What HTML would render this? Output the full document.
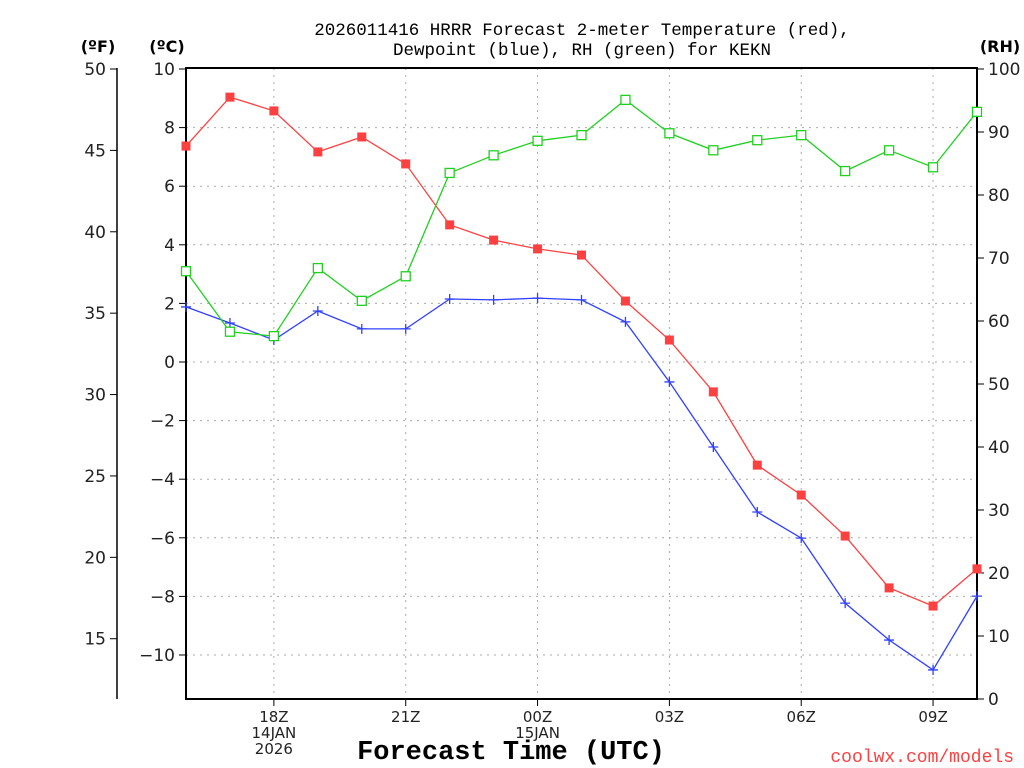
<!DOCTYPE html>
<html><head><meta charset="utf-8"><style>
html,body{margin:0;padding:0;background:#fff;}
svg{display:block;font-family:"DejaVu Sans","Liberation Sans",sans-serif;}
.mono{font-family:"Liberation Mono","DejaVu Sans Mono",monospace;}
</style></head><body>
<svg id="chart" width="1024" height="768" viewBox="0 0 1024 768" xmlns="http://www.w3.org/2000/svg">
<g id="grid"></g>
<g id="axes"></g>
<g id="series"></g>
<text class="mono" x="582" y="35" text-anchor="middle" font-size="17.5">2026011416 HRRR Forecast 2-meter Temperature (red),</text>
<text class="mono" x="582" y="55" text-anchor="middle" font-size="17.5">Dewpoint (blue), RH (green) for KEKN</text>
<text x="98" y="52" text-anchor="middle" font-size="16" font-weight="bold">(ºF)</text>
<text x="167" y="52" text-anchor="middle" font-size="16" font-weight="bold">(ºC)</text>
<text x="1000" y="52" text-anchor="middle" font-size="16" font-weight="bold">(RH)</text>
<text class="mono" x="511" y="759" text-anchor="middle" font-size="27" font-weight="bold">Forecast Time (UTC)</text>
<text class="mono" x="1014" y="762" text-anchor="end" font-size="18" fill="#ff4040">coolwx.com/models</text>
</svg>
<script>
const hours = ["16Z","17Z","18Z","19Z","20Z","21Z","22Z","23Z","00Z","01Z","02Z","03Z","04Z","05Z","06Z","07Z","08Z","09Z","10Z"];
const tempC = [7.37,9.04,8.57,7.17,7.68,6.76,4.68,4.16,3.86,3.65,2.08,0.75,-1.02,-3.52,-4.54,-5.94,-7.71,-8.33,-7.06];
const dewC = [1.88,1.33,0.75,1.74,1.13,1.13,2.15,2.12,2.18,2.12,1.37,-0.68,-2.90,-5.12,-6.01,-8.23,-9.49,-10.51,-7.99];
const rh = [67.9,58.3,57.6,68.4,63.2,67.1,83.5,86.3,88.6,89.5,95.1,89.8,87.1,88.7,89.5,83.8,87.1,84.4,93.2];
const cTicks = [10,8,6,4,2,0,-2,-4,-6,-8,-10];
const fTicks = [50,45,40,35,30,25,20,15];
const rhTicks = [100,90,80,70,60,50,40,30,20,10,0];
const xLabels = {"18Z":["18Z","14JAN","2026"],"21Z":["21Z"],"00Z":["00Z","15JAN"],"03Z":["03Z"],"06Z":["06Z"],"09Z":["09Z"]};

const L=186,R=977,T=68,B=699;
const NS="http://www.w3.org/2000/svg";
const xS=i=>L+(R-L)*i/(hours.length-1);
const yC=c=>69+(10-c)*29.3;
const yF=f=>yC((f-32)*5/9);
const yRH=v=>B-(B-69)*v/100;
function mk(parent,tag,attrs,text){const e=document.createElementNS(NS,tag);for(const k in attrs)e.setAttribute(k,attrs[k]);if(text!==undefined)e.textContent=text;document.getElementById(parent).appendChild(e);return e;}

cTicks.forEach(c=>{if(c===10)return;
 const g=mk('grid','line',{x1:L,x2:R,y1:yC(c),y2:yC(c),stroke:'#aaa','stroke-dasharray':'2,5'});
 
 });
hours.forEach((h,i)=>{if(!xLabels[h])return;
 const g=mk('grid','line',{x1:xS(i),x2:xS(i),y1:T,y2:B,stroke:'#aaa','stroke-dasharray':'2,5'});
 
 
 const t=mk('axes','line',{x1:xS(i),x2:xS(i),y1:B,y2:B+7,stroke:'#000'});
 
 
 xLabels[h].forEach((s,k)=>{const tx=mk('axes','text',{x:xS(i),y:B+23+k*16,'text-anchor':'middle','font-size':15,fill:'#222'},s);
  
  });
});
const fr=mk('axes','rect',{x:L,y:T,width:R-L,height:B-T,fill:'none',stroke:'#000','stroke-width':2});


cTicks.forEach(c=>{
 const t=mk('axes','line',{x1:L-7,x2:L,y1:yC(c),y2:yC(c),stroke:'#000'});
 
 
 const tx=mk('axes','text',{x:L-11,y:yC(c)+6,'text-anchor':'end','font-size':17,fill:'#222'},c<0?'\u2212'+(-c):c);
 
 });
const fa=mk('axes','line',{x1:117,x2:117,y1:T,y2:B,stroke:'#000','stroke-width':1.5});


fTicks.forEach(f=>{
 const t=mk('axes','line',{x1:110,x2:117,y1:yF(f),y2:yF(f),stroke:'#000'});
 
 
 const tx=mk('axes','text',{x:106,y:yF(f)+6,'text-anchor':'end','font-size':17,fill:'#222'},f);
 
 });
rhTicks.forEach(v=>{
 const t=mk('axes','line',{x1:R,x2:R+7,y1:yRH(v),y2:yRH(v),stroke:'#000'});
 
 
 const tx=mk('axes','text',{x:R+11,y:yRH(v)+6,'font-size':17,fill:'#222'},v);
 
 });
function line(vals,yf,color,name){
 const p=mk('series','polyline',{points:vals.map((v,i)=>xS(i)+','+yf(v)).join(' '),fill:'none',stroke:color,'stroke-width':1.3});
 
 }
line(tempC,yC,'#ff4040','temperature-line');
line(dewC,yC,'#3040ff','dewpoint-line');
line(rh,yRH,'#20d020','rh-line');
tempC.forEach((v,i)=>{const m=mk('series','rect',{x:xS(i)-4.5,y:yC(v)-4.5,width:9,height:9,fill:'#ff4040'});
 
 });
dewC.forEach((v,i)=>{const m=mk('series','path',{d:`M${xS(i)-5},${yC(v)}h10M${xS(i)},${yC(v)-5}v10`,stroke:'#3040ff','stroke-width':1.3});
 
 });
rh.forEach((v,i)=>{const m=mk('series','rect',{x:xS(i)-4.5,y:yRH(v)-4.5,width:9,height:9,fill:'#fff',stroke:'#20d020','stroke-width':1.3});
 
 });
</script>
</body></html>
